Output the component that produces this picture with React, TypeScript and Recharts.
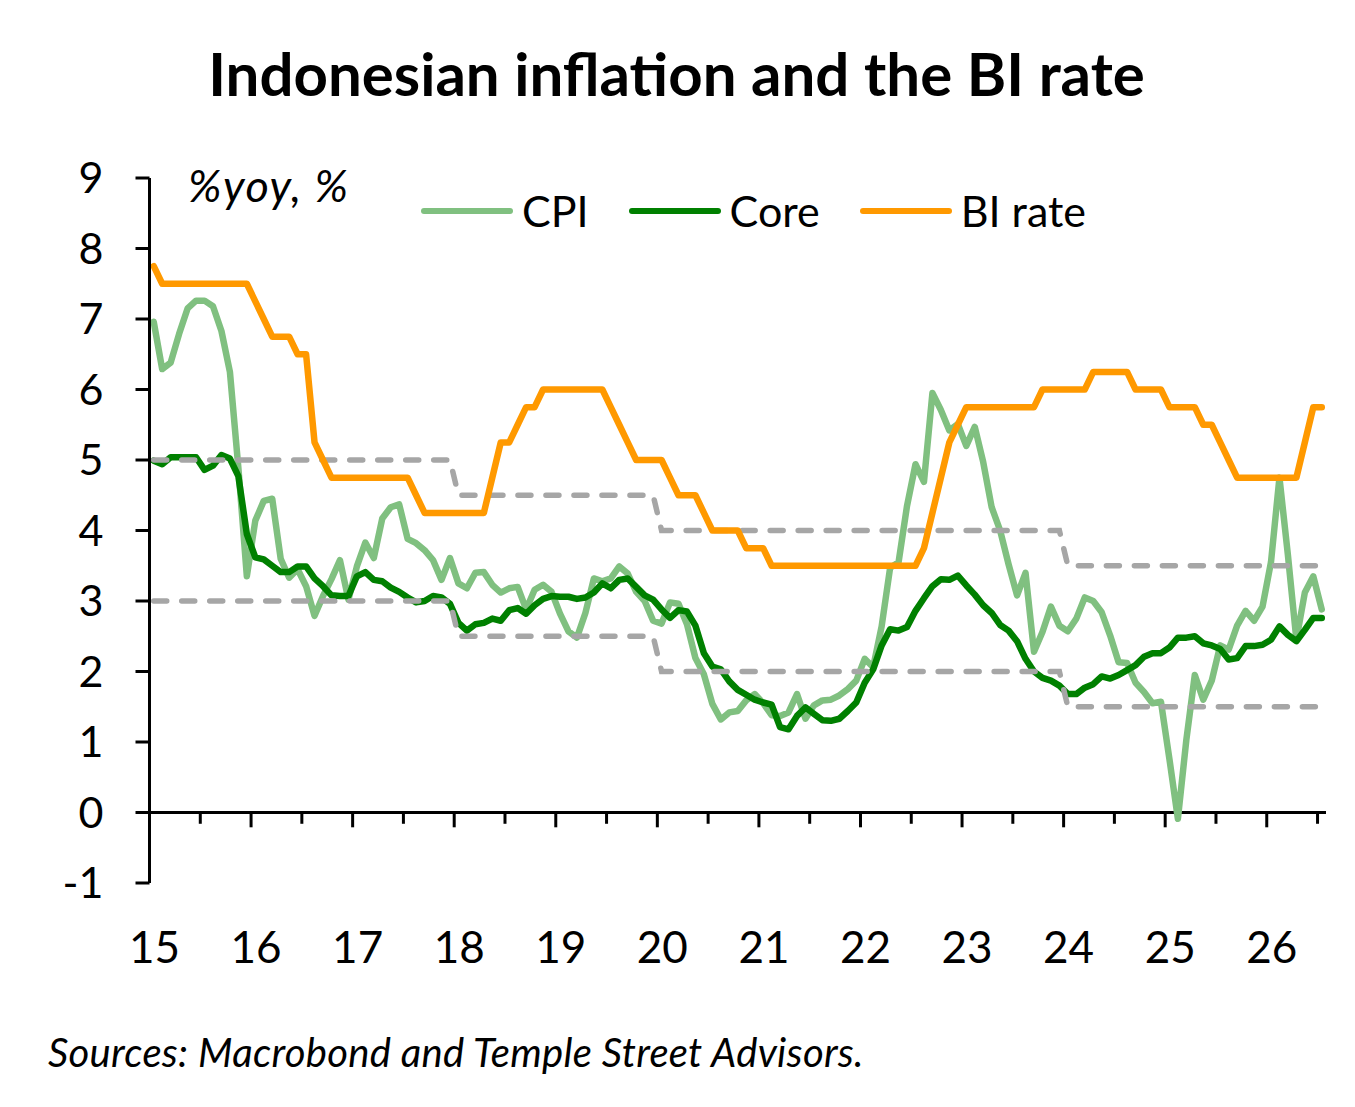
import React from 'react';
import { LineChart, Line, XAxis, YAxis, ReferenceLine, Legend } from 'recharts';

// monthly, Jan 2015 .. Jul 2026
const yearLabels = ['15', '16', '17', '18', '19', '20', '21', '22', '23', '24', '25', '26'];

const cpi = [
  6.96, 6.29, 6.38, 6.79, 7.15, 7.26, 7.26, 7.18, 6.83, 6.25, 4.89, 3.35,
  4.14, 4.42, 4.45, 3.6, 3.33, 3.45, 3.21, 2.79, 3.07, 3.31, 3.58, 3.02,
  3.49, 3.83, 3.61, 4.17, 4.33, 4.37, 3.88, 3.82, 3.72, 3.58, 3.3, 3.61,
  3.25, 3.18, 3.4, 3.41, 3.23, 3.12, 3.18, 3.2, 2.88, 3.16, 3.23, 3.13,
  2.82, 2.57, 2.48, 2.83, 3.32, 3.28, 3.32, 3.49, 3.39, 3.13, 3.0, 2.72,
  2.68, 2.98, 2.96, 2.67, 2.19, 1.96, 1.54, 1.32, 1.42, 1.44, 1.59, 1.68,
  1.55, 1.38, 1.37, 1.42, 1.68, 1.33, 1.52, 1.59, 1.6, 1.66, 1.75, 1.87,
  2.18, 2.06, 2.64, 3.47, 3.55, 4.35, 4.94, 4.69, 5.95, 5.71, 5.42, 5.51,
  5.2, 5.47, 4.97, 4.33, 4.0, 3.52, 3.08, 3.4, 2.28, 2.56, 2.92, 2.65,
  2.57, 2.75, 3.05, 3.0, 2.84, 2.51, 2.13, 2.12, 1.84, 1.71, 1.55, 1.57,
  0.76, -0.09, 1.03, 1.95, 1.6, 1.87, 2.37, 2.31, 2.65, 2.86, 2.72, 2.92,
  3.55, 4.75, 3.65, 2.45, 3.12, 3.35, 2.88,
];

const core = [
  4.99, 4.94, 5.04, 5.04, 5.04, 5.04, 4.86, 4.92, 5.07, 5.02, 4.77, 3.95,
  3.62, 3.59, 3.5, 3.41, 3.41, 3.49, 3.49, 3.32, 3.21, 3.08, 3.07, 3.07,
  3.35, 3.41, 3.3, 3.28, 3.19, 3.13, 3.05, 2.98, 3.0, 3.07, 3.05, 2.96,
  2.69, 2.58, 2.67, 2.69, 2.75, 2.72, 2.87, 2.9, 2.82, 2.94, 3.03, 3.07,
  3.06, 3.06, 3.03, 3.05, 3.12, 3.25, 3.18, 3.3, 3.32, 3.2, 3.08, 3.02,
  2.88, 2.76, 2.87, 2.85, 2.65, 2.26, 2.07, 2.03, 1.86, 1.74, 1.67, 1.6,
  1.56, 1.53, 1.21, 1.18, 1.37, 1.49, 1.4, 1.31, 1.3, 1.33, 1.44, 1.56,
  1.84, 2.03, 2.37, 2.6, 2.58, 2.63, 2.86, 3.04, 3.21, 3.31, 3.3, 3.36,
  3.22, 3.09, 2.94, 2.83, 2.66, 2.58, 2.43, 2.18, 2.0, 1.91, 1.87, 1.8,
  1.68, 1.68, 1.77, 1.82, 1.93, 1.9, 1.95, 2.02, 2.09, 2.21, 2.26, 2.26,
  2.34, 2.48, 2.48, 2.5, 2.4, 2.37, 2.32, 2.17, 2.19, 2.36, 2.36, 2.38,
  2.45, 2.64, 2.52, 2.43, 2.59, 2.76, 2.76,
];

const biRate = [
  7.75, 7.5, 7.5, 7.5, 7.5, 7.5, 7.5, 7.5, 7.5, 7.5, 7.5, 7.5,
  7.25, 7.0, 6.75, 6.75, 6.75, 6.5, 6.5, 5.25, 5.0, 4.75, 4.75, 4.75,
  4.75, 4.75, 4.75, 4.75, 4.75, 4.75, 4.75, 4.5, 4.25, 4.25, 4.25, 4.25,
  4.25, 4.25, 4.25, 4.25, 4.75, 5.25, 5.25, 5.5, 5.75, 5.75, 6.0, 6.0,
  6.0, 6.0, 6.0, 6.0, 6.0, 6.0, 5.75, 5.5, 5.25, 5.0, 5.0, 5.0,
  5.0, 4.75, 4.5, 4.5, 4.5, 4.25, 4.0, 4.0, 4.0, 4.0, 3.75, 3.75,
  3.75, 3.5, 3.5, 3.5, 3.5, 3.5, 3.5, 3.5, 3.5, 3.5, 3.5, 3.5,
  3.5, 3.5, 3.5, 3.5, 3.5, 3.5, 3.5, 3.75, 4.25, 4.75, 5.25, 5.5,
  5.75, 5.75, 5.75, 5.75, 5.75, 5.75, 5.75, 5.75, 5.75, 6.0, 6.0, 6.0,
  6.0, 6.0, 6.0, 6.25, 6.25, 6.25, 6.25, 6.25, 6.0, 6.0, 6.0, 6.0,
  5.75, 5.75, 5.75, 5.75, 5.5, 5.5, 5.25, 5.0, 4.75, 4.75, 4.75, 4.75,
  4.75, 4.75, 4.75, 4.75, 5.25, 5.75, 5.75,
];

// inflation target band, one value per calendar year
const targetUpperByYear = [5, 5, 5, 4.5, 4.5, 4, 4, 4, 4, 3.5, 3.5, 3.5];
const targetLowerByYear = [3, 3, 3, 2.5, 2.5, 2, 2, 2, 2, 1.5, 1.5, 1.5];

const yTicks = [-1, 0, 1, 2, 3, 4, 5, 6, 7, 8, 9];
const legendOrder = ['CPI', 'Core', 'BI rate'];

const data = cpi.map((v, i) => ({
  t: i + 0.5,
  cpi: v,
  core: core[i],
  bi: biRate[i],
  upper: targetUpperByYear[Math.floor(i / 12)],
  lower: targetLowerByYear[Math.floor(i / 12)],
}));

const months = data.length;
const yearTicks = yearLabels.map((_, i) => i * 12);
const halfYearTicks = Array.from({ length: Math.floor(months / 6) }, (_, i) => (i + 1) * 6);

const FONT = 'Lato, "Open Sans", sans-serif';
const CPI_COLOR = '#80C080';
const CORE_COLOR = '#008000';
const BI_COLOR = '#FF9900';
const BAND_COLOR = '#A6A6A6';

const YearTick = (props: any) => {
  const { x, y, payload } = props;
  return (
    <text x={x + 5} y={y} dy="0.72em" textAnchor="middle" fontFamily={FONT} fontSize={44} fill="#000">
      {yearLabels[Math.round(payload.value / 12)]}
    </text>
  );
};

const LegendContent = (props: any) => {
  const items = (props.payload || [])
    .filter((p: any) => legendOrder.includes(p.value))
    .sort((a: any, b: any) => legendOrder.indexOf(a.value) - legendOrder.indexOf(b.value));
  return (
    <div style={{ display: 'flex', alignItems: 'center', fontFamily: FONT, fontSize: 43, color: '#000' }}>
      {items.map((p: any) => (
        <div key={p.value} style={{ display: 'flex', alignItems: 'center', marginRight: 40 }}>
          <svg width={92} height={10} style={{ marginRight: 9 }}>
            <line x1={3} y1={5} x2={89} y2={5} stroke={p.color} strokeWidth={6} strokeLinecap="round" />
          </svg>
          <span>{p.value}</span>
        </div>
      ))}
    </div>
  );
};

export default function App() {
  return (
    <div style={{ position: 'absolute', left: 0, top: 0, width: 1355, height: 1107, background: '#fff' }}>
      <LineChart
        width={1355}
        height={1107}
        data={data}
        margin={{ top: 178, right: 29, bottom: 124, left: 49.5 }}
      >
        <XAxis
          type="number"
          dataKey="t"
          domain={[0, months]}
          ticks={yearTicks}
          interval={0}
          axisLine={false}
          tickLine={false}
          tickSize={0}
          tickMargin={48}
          height={100}
          tick={<YearTick />}
        />
        <YAxis
          type="number"
          domain={[-1, 9]}
          ticks={yTicks}
          interval={0}
          width={100}
          axisLine={{ stroke: '#000', strokeWidth: 3 }}
          tickLine={{ stroke: '#000', strokeWidth: 3 }}
          tickSize={14}
          tickMargin={32}
          tick={{ fontFamily: FONT, fontSize: 43, fill: '#000' }}
        />
        <ReferenceLine y={0} stroke="#000" strokeWidth={3} />
        {halfYearTicks.map((t) => (
          <ReferenceLine
            key={t}
            segment={[
              { x: t, y: 0 },
              { x: t, y: t % 12 === 0 ? -0.21 : -0.16 },
            ]}
            stroke="#000"
            strokeWidth={3}
          />
        ))}
        <Legend
          verticalAlign="middle"
          align="center"
          layout="horizontal"
          content={<LegendContent />}
          wrapperStyle={{ position: 'absolute', top: 185, left: 421, width: 760, height: 55 }}
        />
        <Line name="CPI" dataKey="cpi" type="linear" stroke={CPI_COLOR} strokeWidth={6.5}
          strokeLinejoin="round" strokeLinecap="round" dot={false} activeDot={false} isAnimationActive={false} />
        <Line name="Core" dataKey="core" type="linear" stroke={CORE_COLOR} strokeWidth={6.5}
          strokeLinejoin="round" strokeLinecap="round" dot={false} activeDot={false} isAnimationActive={false} />
        <Line name="Upper" dataKey="upper" type="linear" stroke={BAND_COLOR} strokeWidth={5.5} strokeDasharray="13 15"
          strokeLinecap="round" legendType="none" dot={false} activeDot={false} isAnimationActive={false} />
        <Line name="Lower" dataKey="lower" type="linear" stroke={BAND_COLOR} strokeWidth={5.5} strokeDasharray="13 15"
          strokeLinecap="round" legendType="none" dot={false} activeDot={false} isAnimationActive={false} />
        <Line name="BI rate" dataKey="bi" type="linear" stroke={BI_COLOR} strokeWidth={6.5}
          strokeLinejoin="round" strokeLinecap="round" dot={false} activeDot={false} isAnimationActive={false} />
      </LineChart>
      <svg width={1355} height={1107} style={{ position: 'absolute', left: 0, top: 0, pointerEvents: 'none' }}>
        <text x={676.5} y={96} textAnchor="middle" fontFamily={FONT} fontWeight={700} fontSize={60} fill="#000">
          Indonesian inflation and the BI rate
        </text>
        <text x={188} y={202} fontFamily={FONT} fontStyle="italic" fontSize={45} letterSpacing={1.5} fill="#000">
          %yoy, %
        </text>
        <text x={48} y={1067} fontFamily={FONT} fontStyle="italic" fontSize={40} letterSpacing={0.3} fill="#000">
          Sources: Macrobond and Temple Street Advisors.
        </text>
      </svg>
    </div>
  );
}
